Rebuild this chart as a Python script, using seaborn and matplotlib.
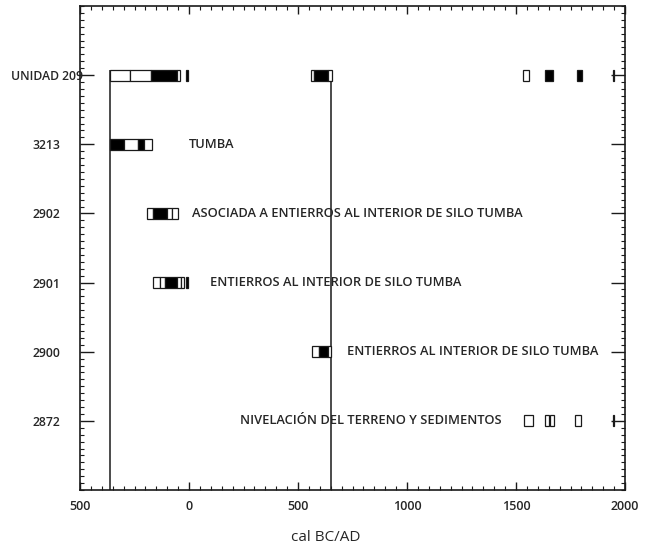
# Calibrated radiocarbon ranges per context (OxCal-style multiplot)
import numpy as np
import matplotlib
matplotlib.use("Agg")
import matplotlib.pyplot as plt
from matplotlib.ticker import MultipleLocator, FixedLocator
import seaborn as sns

# Data
# -------------------------------------------------------------
ROWS = ["UNIDAD 209", "3213", "2902", "2901", "2900", "2872"]

# one entry per box segment: row index, start year, end year, filled (1) / open (0)
seg_row = [0, 0, 0, 0, 0, 0, 0, 0, 0, 0, 0, 0,
           1, 1, 1, 1,
           2, 2, 2, 2,
           3, 3, 3, 3, 3, 3,
           4, 4, 4,
           5, 5, 5, 5, 5]
seg_start = [-362, -271, -174, -55, -12, 560, 573, 638, 1532, 1633, 1780, 1944,
             -362, -298, -234, -206,
             -193, -165, -101, -78,
             -165, -133, -110, -55, -37, -12,
             564, 596, 638,
             1537, 1633, 1656, 1771, 1944]
seg_end = [-271, -174, -55, -41, -6, 573, 638, 656, 1560, 1670, 1803, 1948,
           -298, -234, -206, -170,
           -165, -101, -78, -50,
           -133, -110, -55, -37, -23, -6,
           596, 638, 651,
           1578, 1651, 1674, 1798, 1948]
seg_fill = [0, 0, 1, 0, 1, 0, 1, 0, 0, 1, 1, 1,
            1, 0, 1, 0,
            0, 1, 0, 0,
            0, 0, 1, 0, 0, 1,
            0, 1, 0,
            0, 0, 0, 0, 1]

# row annotations
note_row = [1, 2, 3, 4, 5]
note_x = [0, 14, 96, 725, 1436]
note_text = ["TUMBA",
             "ASOCIADA A ENTIERROS AL INTERIOR DE SILO TUMBA",
             "ENTIERROS AL INTERIOR DE SILO TUMBA",
             "ENTIERROS AL INTERIOR DE SILO TUMBA",
             "NIVELACIÓN DEL TERRENO Y SEDIMENTOS"]
note_ha = ["left", "left", "left", "left", "right"]

# boundary lines
bound_x = [-362, 651]

XTICKS = [-500, 0, 500, 1000, 1500, 2000]
XTICK_LABELS = ["500", "0", "500", "1000", "1500", "2000"]

BOX_H = 0.16
INK = "#1a1a1a"
TXT = "#262626"

# Plot
# -------------------------------------------------------------
sns.set_theme(style="ticks")
plt.rcParams["font.family"] = ["Open Sans", "DejaVu Sans"]

fig = plt.figure(figsize=(6.51, 5.5), dpi=100)
ax = fig.add_axes([80 / 651, 1 - 490 / 550, 545 / 651, 484 / 550])

colors = ["black" if f else "white" for f in seg_fill]
widths = np.array(seg_end) - np.array(seg_start)
ax.barh(seg_row, widths, left=seg_start, height=BOX_H, color=colors,
        edgecolor=INK, linewidth=0.9, zorder=3)

for bx in bound_x:
    ax.vlines(bx, -BOX_H / 2, len(ROWS), color=INK, linewidth=1.1, zorder=2)

for r, x, t, ha in zip(note_row, note_x, note_text, note_ha):
    ax.text(x, r, t, ha=ha, va="center", fontsize=9.3, color=TXT,
            fontweight="semibold", zorder=4)

ax.set_xlim(-500, 2000)
ax.set_ylim(len(ROWS), -1)

ax.xaxis.set_major_locator(FixedLocator(XTICKS))
ax.set_xticklabels(XTICK_LABELS, fontweight="semibold")
ax.xaxis.set_minor_locator(MultipleLocator(50))
ax.set_yticks(range(len(ROWS)))
ax.set_yticklabels(ROWS, ha="center", fontweight="semibold")
ax.yaxis.set_minor_locator(MultipleLocator(0.1))

ax.tick_params(axis="x", which="major", direction="in", length=6, width=1,
               top=True, bottom=True, pad=7, labelsize=9, labelcolor=TXT,
               color=INK)
ax.tick_params(axis="x", which="minor", direction="in", length=3, width=0.8,
               top=True, bottom=True, color=INK)
ax.tick_params(axis="y", which="major", direction="in", length=10, width=1,
               left=True, right=True, pad=24, labelsize=8.8, labelcolor=TXT,
               color=INK)
ax.tick_params(axis="y", which="minor", direction="in", length=3, width=0.8,
               left=True, right=True, color=INK)

for s in ax.spines.values():
    s.set_color(INK)
    s.set_linewidth(1.2)

ax.set_xlabel("cal BC/AD", fontsize=11, color=TXT)
ax.xaxis.label.set_va("center")
ax.xaxis.set_label_coords(0.45, -0.099)
ax.grid(False)

fig.savefig("out.png", dpi=100)
